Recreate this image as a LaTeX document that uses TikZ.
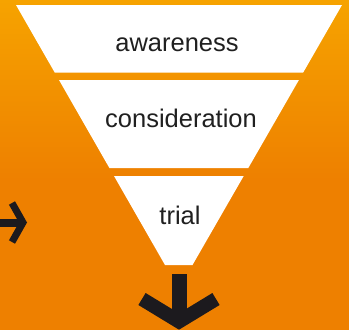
\documentclass[tikz,border=0pt]{standalone}
\usepackage{fontspec}
\setmainfont{Liberation Sans}
\definecolor{funneltop}{HTML}{F6A300}
\definecolor{funnelbot}{HTML}{EE8000}
\definecolor{arrowdark}{HTML}{1C1A1E}
\definecolor{labeldark}{HTML}{202020}
\begin{document}
\begin{tikzpicture}[x=1pt,y=-1pt]
\tikzstyle{stagefill} = [
  fill = white
]
\tikzstyle{stagelabel} = [
  anchor=base,
  inner sep=0pt,
  text = labeldark,
  font = \fontsize{25.5}{30}\selectfont
]
\tikzstyle{arrowline} = [
  draw = arrowdark,
  line join=miter,
  line cap=butt
]

% background
\useasboundingbox (0,0) rectangle (349,330);
\fill[funnelbot] (0,0) rectangle (349,330);
\shade[top color=funneltop, bottom color=funnelbot] (0,0) rectangle (349,180);

% funnel stages
\fill[stagefill] (16,5) -- (342,5) -- (303.2,72.5) -- (54.7,72.5) -- cycle;
\fill[stagefill] (59,80) -- (298.9,80) -- (248.3,168) -- (109.4,168) -- cycle;
\fill[stagefill] (114,176) -- (243.7,176) -- (192.5,265) -- (165,265) -- cycle;

\node [stagelabel] (aware) at (177,51) {awareness};
\node [stagelabel] (consid) at (181,127.7) {consideration};
\node [stagelabel] (trial) at (180,224.3) {trial};

% arrows
\coordinate (ina) at (0,222.5);
\coordinate (inb) at (23,222.5);
\coordinate (inu) at (12,203);
\coordinate (inl) at (12,242);
\coordinate (outa) at (179,274);
\coordinate (outb) at (179,316);
\coordinate (outl) at (142,299);
\coordinate (outm) at (179,321.5);
\coordinate (outr) at (216,299);

\draw[arrowline, line width=8pt] (ina) -- (inb);
\draw[arrowline, line width=7pt] (inu) -- (inb) -- (inl);
\draw[arrowline, line width=15pt] (outa) -- (outb);
\draw[arrowline, line width=14pt] (outl) -- (outm) -- (outr);

\end{tikzpicture}
\end{document}
